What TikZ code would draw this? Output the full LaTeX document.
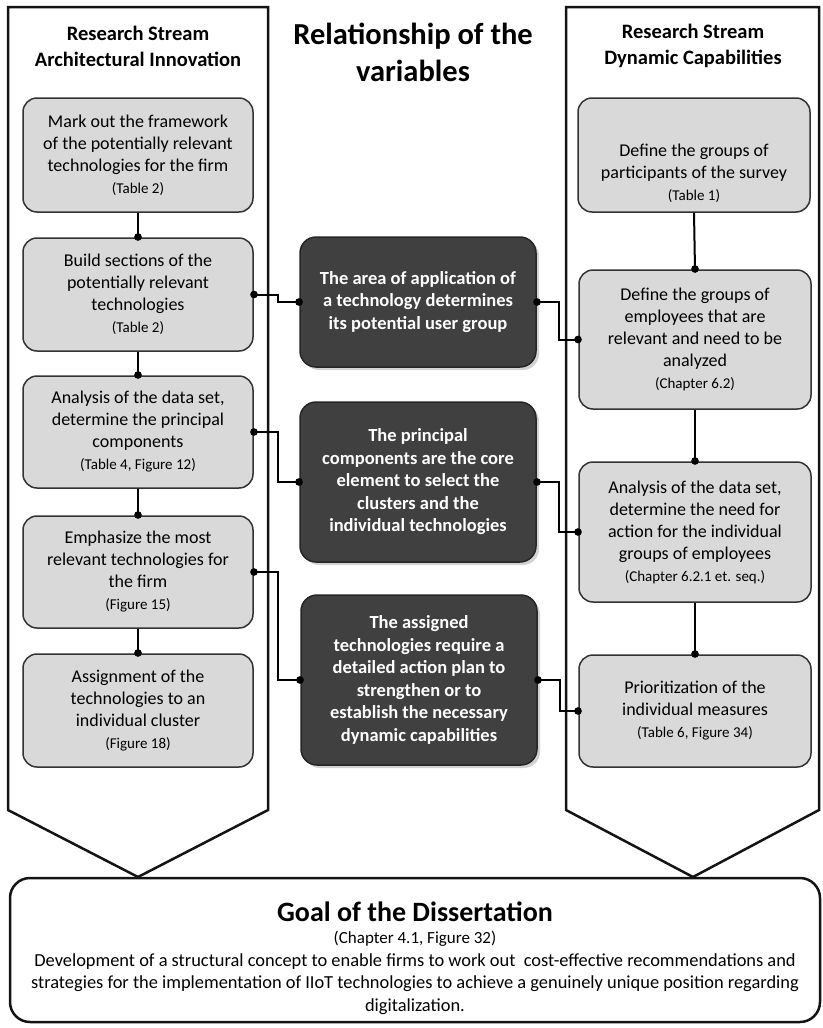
\documentclass[tikz,border=0pt]{standalone}
\usepackage{fontspec}
\setmainfont{Carlito}
\usetikzlibrary{arrows.meta,shadows}
\definecolor{relPanel}{HTML}{141414}
\definecolor{relLight}{HTML}{D9D9D9}
\definecolor{relEdge}{HTML}{333333}
\definecolor{relDark}{HTML}{404040}
\newcommand{\stepfont}{\fontsize{18}{22}\selectfont}
\newcommand{\reffont}{\fontsize{15}{19}\selectfont}
\newcommand{\headfont}{\fontsize{20.5}{26}\selectfont\bfseries}
\tikzset{
  stepbox/.style={rounded corners=14pt, draw=relEdge, fill=relLight, line width=1.5pt,
              align=center, font=\stepfont, minimum width=230pt, inner sep=2pt},
  corebox/.style={rounded corners=16pt, draw=black!85, fill=relDark, text=white, line width=1.5pt,
              align=center, font=\fontsize{18.5}{22.5}\selectfont\bfseries, minimum width=236pt, inner sep=2pt,
              drop shadow={shadow xshift=3pt, shadow yshift=-3pt, opacity=0.35}},
  panel/.style={draw=relPanel, line width=2.5pt, line join=miter},
  head/.style={align=center, font=\headfont},
  link/.style={draw=black, line width=2pt, {Circle[length=7.5pt]}-{Circle[length=7.5pt]},
              shorten <=-3.5pt, shorten >=-3.5pt},
  chain/.style={draw=black, line width=2pt, -{Circle[length=7.5pt]}, shorten >=-3.5pt},
}

\begin{document}
\begin{tikzpicture}[x=1pt,y=-1pt]
  \useasboundingbox (0,0) rectangle (822,1028);
  % research streams
  \draw[panel] (8,7) -- (268,7) -- (268,810) -- (138,877) -- (8,810) -- cycle;
  \draw[panel] (566,7) -- (819,7) -- (819,810) -- (693,877) -- (566,810) -- cycle;
  \node[head] (hl) at (138,46) {Research Stream\\Architectural Innovation};
  \node[head] (hr) at (693,46) {Research Stream\\Dynamic Capabilities};
  \node[align=center, font=\fontsize{30.5}{37}\selectfont\bfseries] (title) at (413,52)
    {Relationship of the\\variables};
  % left column
  \node[stepbox,minimum height=114pt] (L1) at (138,155)
    {Mark out the framework\\of the potentially relevant\\technologies for the firm\\{\reffont (Table 2)}};
  \node[stepbox,minimum height=113pt] (L2) at (138,294.5)
    {Build sections of the\\potentially relevant\\technologies\\{\reffont (Table 2)}};
  \node[stepbox,minimum height=112pt] (L3) at (138,432)
    {Analysis of the data set,\\determine the principal\\components\\{\reffont (Table 4, Figure 12)}};
  \node[stepbox,minimum height=112pt] (L4) at (138,572)
    {Emphasize the most\\relevant technologies for\\the firm\\{\reffont (Figure 15)}};
  \node[stepbox,minimum height=113pt] (L5) at (138,710.5)
    {Assignment of the\\technologies to an\\individual cluster\\{\reffont (Figure 18)}};
  % right column
  \node[stepbox,minimum width=232pt,minimum height=114pt,inner sep=0pt] (R1) at (694,155)
    {\rule{0pt}{50pt}Define the groups of\\participants of the survey\\{\reffont (Table 1)}};
  \node[stepbox,minimum width=232pt,minimum height=139pt] (R2) at (695,339.5)
    {Define the groups of\\employees that are\\relevant and need to be\\analyzed\\{\reffont (Chapter 6.2)}};
  \node[stepbox,minimum width=232pt,minimum height=140pt] (R3) at (695,532)
    {Analysis of the data set,\\determine the need for\\action for the individual\\groups of employees\\{\reffont (Chapter 6.2.1 et. seq.)}};
  \node[stepbox,minimum width=232pt,minimum height=112pt] (R4) at (695,711)
    {Prioritization of the\\individual measures\\{\reffont (Table 6, Figure 34)}};
  % relationships
  \node[corebox,minimum height=130pt] (D1) at (418,302)
    {The area of application of\\a technology determines\\its potential user group};
  \node[corebox,minimum height=160pt] (D2) at (418,482)
    {The principal\\components are the core\\element to select the\\clusters and the\\individual technologies};
  \node[corebox,minimum height=170pt] (D3) at (419,680)
    {The assigned\\technologies require a\\detailed action plan to\\strengthen or to\\establish the necessary\\dynamic capabilities};
  \foreach \a/\b in {L1/L2,L2/L3,L3/L4,L4/L5,R1/R2,R2/R3,R3/R4}{
    \draw[chain] (\a.south) -- (\b.north);}
  \foreach \a/\b in {L2/D1,L3/D2,L4/D3}{
    \draw[link] (\a.east) -- ++(24,0) |- (\b.west);}
  \foreach \a/\b in {D1/R2,D2/R3,D3/R4}{
    \draw[link] (\a.east) -- ++(22,0) |- (\b.west);}
  % goal
  \node[draw=relPanel, line width=2.5pt, fill=white, rounded corners=20pt,
        minimum width=810pt, minimum height=144pt, inner sep=0pt, align=center,
        font=\fontsize{18.4}{22.5}\selectfont] (goal) at (415,950)
    {\rule{0pt}{36pt}{\fontsize{28}{30}\selectfont\bfseries Goal of the Dissertation}\\
     {\fontsize{17}{23}\selectfont (Chapter 4.1, Figure 32)}\\
     Development of a structural concept to enable firms to work out\ \ cost-effective recommendations and\\
     strategies for the implementation of IIoT technologies to achieve a genuinely unique position regarding\\
     digitalization.};
\end{tikzpicture}
\end{document}
